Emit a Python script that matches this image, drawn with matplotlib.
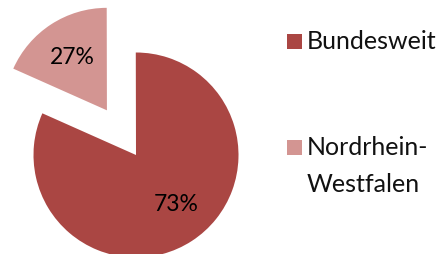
import matplotlib.pyplot as plt
from matplotlib.patches import Rectangle

plt.rcParams['font.family'] = ['Lato', 'DejaVu Sans']

# data
categories = ['Bundesweit', 'Nordrhein-\nWestfalen']
shares = [81.7, 18.3]          # wedge sizes as drawn
pct_labels = ['73%', '27%']    # labels as printed
colors = ['#AA4643', '#D39592']

W, H = 445, 254
fig = plt.figure(figsize=(W / 100, H / 100), dpi=100)

# pie axes: centre at (136, 155) px from top-left, radius ~102.5 px
R = 102.5
cx, cy = 136, H - 155
ax = fig.add_axes([(cx - R) / W, (cy - R) / H, 2 * R / W, 2 * R / H])
wedges, texts = ax.pie(shares, colors=colors, startangle=156, counterclock=True,
                       explode=[0, 0.52], labels=pct_labels, labeldistance=0.62,
                       wedgeprops=dict(linewidth=0),
                       textprops=dict(fontsize=16.5, color='black'))
for t in texts:
    t.set_ha('center')
    t.set_va('center')
    t.set_clip_on(False)
texts[0].set_position((0.39, -0.48))  # label sits a bit off the wedge middle
for w in wedges:
    w.set_clip_on(False)
ax.set_xlim(-1, 1)
ax.set_ylim(-1, 1)
ax.axis('off')

# legend drawn by hand
bases = [49, 155]  # baseline (px from top) of first line of each entry
pitch = 37         # line pitch in px
for label, col, base in zip(categories, colors, bases):
    fig.patches.append(Rectangle((287 / W, (H - base) / H), 15 / W, 15 / H,
                                 transform=fig.transFigure, color=col, lw=0))
    for i, line in enumerate(label.split('\n')):
        fig.text(307 / W, (H - base - i * pitch) / H, line, fontsize=18,
                 va='baseline', ha='left', color='#111111')

fig.savefig('out.png', dpi=100)
